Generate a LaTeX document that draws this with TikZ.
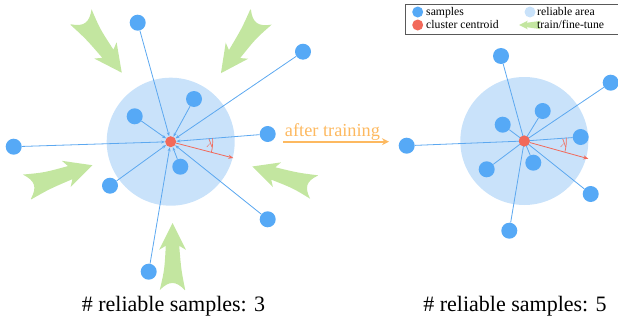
\documentclass[tikz,border=0pt]{standalone}
\usepackage{amsmath,amssymb}
\usepackage{fontspec}
\setmainfont{LiberationSerif}[Extension=.ttf, UprightFont=*-Regular, BoldFont=*-Bold, ItalicFont=*-Italic]
\usepackage{xcolor}
\usepackage{tikz}
\usetikzlibrary{calc,arrows.meta}

\definecolor{sampleblue}{RGB}{86,169,246}
\definecolor{linkblue}{RGB}{92,168,240}
\definecolor{areablue}{RGB}{201,226,250}
\definecolor{centroidred}{RGB}{242,105,90}
\definecolor{traingreen}{RGB}{195,230,160}
\definecolor{afterorange}{RGB}{253,185,96}

\tikzset{
    sample/.style={circle, fill=sampleblue, inner sep=0pt, minimum size=16pt},
    centroid/.style={circle, fill=centroidred, inner sep=0pt, minimum size=11pt},
    link/.style={draw=linkblue, line width=0.8pt},
    pull/.style={link, -{Stealth[length=4pt,width=3pt]}},
    radiusline/.style={draw=centroidred, line width=0.8pt, -{Stealth[length=5pt,width=4pt]}},
    caption/.style={font=\fontsize{22}{24}\selectfont, anchor=base},
    legendtext/.style={font=\fontsize{11.7}{13}\selectfont, anchor=base west, inner sep=0pt}
}

% fat green arrow: tail midpoint, angle, length
\newcommand{\trainarrow}[3]{%
    \begin{scope}[shift={#1}, rotate=#2, scale=#3]
        \fill[traingreen] (0,0.19) .. controls (0.3,0.13) .. (0.66,0.1)
            -- (0.6,0.2) -- (1,0) -- (0.6,-0.2) -- (0.66,-0.1)
            .. controls (0.3,-0.12) .. (0,-0.19)
            .. controls (0.14,-0.05) and (0.14,0.05) .. cycle;
    \end{scope}}

\begin{document}
\begin{tikzpicture}[x=1pt, y=-1pt]
        \useasboundingbox (0,0) rectangle (618,324);

        % left cluster
        \coordinate (c0) at (170.7,141.7);
        \fill[areablue] (c0) circle[radius=64pt];
        \node[sample] (s1) at (137.7,22.7) {};
        \node[sample] (s2) at (303,51.7) {};
        \node[sample] (s3) at (194,99) {};
        \node[sample] (s4) at (134.7,116.3) {};
        \node[sample] (s5) at (13.7,146.7) {};
        \node[sample] (s6) at (267.7,134) {};
        \node[sample] (s7) at (180.3,166.7) {};
        \node[sample] (s8) at (110,185.7) {};
        \node[sample] (s9) at (267.7,219.3) {};
        \node[sample] (s10) at (148.7,271.7) {};
        \node[centroid] (c) at (c0) {};
        \foreach \v in {1,...,10} {
            \draw[pull] (s\v) -- (c);
        }
        \coordinate (r1) at (233.3,158);
        \draw[radiusline] (c) -- (r1);
        \draw[centroidred, line width=0.7pt] ($(c)+(-14.6:42pt)$) arc[start angle=-14.6, end angle=4.5, radius=42pt];
        \node[text=centroidred, font=\fontsize{13}{14}\selectfont] (l1) at ($(c)+(-3:39pt)$) {$\lambda$};

        % train/fine-tune arrows
        \trainarrow{(81,17)}{-53.8}{69}
        \trainarrow{(261,17)}{-125.5}{69}
        \trainarrow{(27,187)}{18.4}{69}
        \trainarrow{(314,187)}{161.6}{65}
        \trainarrow{(172.5,290)}{90}{67}

        \node[caption] (cap1) at (173.5,311) {\# reliable samples: 3};

        % after training
        \coordinate (a1) at (283,141.7);
        \coordinate (a2) at (389,141.7);
        \draw[afterorange, line width=1.6pt, -{Stealth[length=7pt,width=7pt,open]}] (a1) -- (a2);
        \node[text=afterorange, font=\fontsize{18.3}{20}\selectfont, anchor=base] (after) at (332.5,136.5) {after training};

        % right cluster
        \coordinate (d0) at (524.3,141);
        \fill[areablue] (d0) circle[radius=64pt];
        \node[sample] (t1) at (501,56) {};
        \node[sample] (t2) at (610.7,82.7) {};
        \node[sample] (t3) at (542.7,111) {};
        \node[sample] (t4) at (502.7,124.7) {};
        \node[sample] (t5) at (406.7,145.7) {};
        \node[sample] (t6) at (580.7,137) {};
        \node[sample] (t7) at (533.3,162.7) {};
        \node[sample] (t8) at (486.7,169.3) {};
        \node[sample] (t9) at (590.7,194) {};
        \node[sample] (t10) at (509.3,230.7) {};
        \node[centroid] (d) at (d0) {};
        \foreach \v in {1,...,10} {
            \draw[link] (t\v) -- (d.center);
        }
        \node[centroid] at (d0) {};
        \coordinate (r2) at (588.3,158.7);
        \draw[radiusline] (d) -- (r2);
        \draw[centroidred, line width=0.7pt] ($(d)+(-14.6:42pt)$) arc[start angle=-14.6, end angle=4.5, radius=42pt];
        \node[text=centroidred, font=\fontsize{13}{14}\selectfont] (l2) at ($(d)+(-3:39pt)$) {$\lambda$};

        \node[caption] (cap2) at (515,311) {\# reliable samples: 5};

        % legend
        \draw[black!65, line width=1pt] (405,4) rectangle (625,34);
        \fill[sampleblue] (417.7,12) circle[radius=5.5pt];
        \fill[centroidred] (417.7,25) circle[radius=5.5pt];
        \fill[areablue] (530,12) circle[radius=5.5pt];
        \trainarrow{(541,25)}{180}{22}
        \node[legendtext] (k1) at (426,15.5) {samples};
        \node[legendtext] (k2) at (426,28.5) {cluster centroid};
        \node[legendtext] (k3) at (537,15.5) {reliable area};
        \node[legendtext] (k4) at (537,28.5) {train/fine-tune};
    \end{tikzpicture}
\end{document}
